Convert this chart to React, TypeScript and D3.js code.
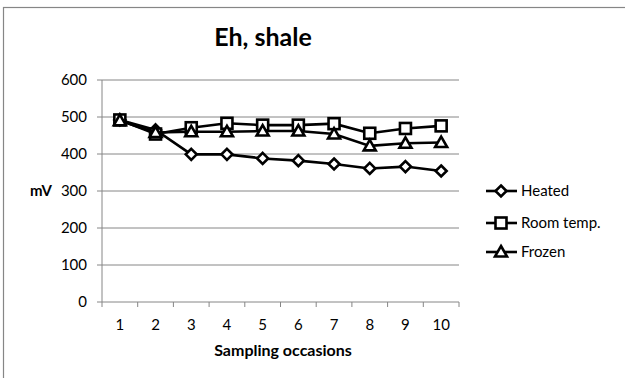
import React from "react";
import * as d3 from "d3";

const categories = ["1", "2", "3", "4", "5", "6", "7", "8", "9", "10"];
const heated = [492, 465, 399, 399, 388, 382, 373, 361, 366, 354];
const roomTemp = [492, 454, 471, 483, 478, 478, 482, 456, 469, 476];
const frozen = [490, 458, 460, 460, 462, 462, 454, 422, 429, 431];
const yTicks = [0, 100, 200, 300, 400, 500, 600];
const seriesNames = ["Heated", "Room temp.", "Frozen"];
const seriesMarkers = ["diamond", "square", "triangle"];

const W = 625;
const H = 378;
const FONT = "Lato, 'Open Sans', 'Liberation Sans', sans-serif";

function Marker({ kind, x, y }: { kind: string; x: number; y: number }) {
  const common = { fill: "#fff", stroke: "#000", strokeWidth: 2.6 };
  if (kind === "diamond") {
    const r = 5.5;
    return <path d={`M${x},${y - r}L${x + r},${y}L${x},${y + r}L${x - r},${y}Z`} {...common} />;
  }
  if (kind === "square") {
    const r = 5.5;
    return <rect x={x - r} y={y - r} width={2 * r} height={2 * r} {...common} />;
  }
  const r = 6;
  return <path d={`M${x},${y - r}L${x + r},${y + r * 0.75}L${x - r},${y + r * 0.75}Z`} {...common} />;
}

export default function App() {
  const left = 102;
  const right = 459;
  const top = 80;
  const bottom = 302;
  const x = d3.scaleBand().domain(categories).range([left, right]);
  const y = d3.scaleLinear().domain([0, 600]).range([bottom, top]);
  const cx = (c: string) => (x(c) as number) + x.bandwidth() / 2;
  const line = d3
    .line<number>()
    .x((_, i) => cx(categories[i]))
    .y((d) => y(d));
  const series = [heated, roomTemp, frozen];
  const legendY = [191, 223, 252];

  return (
    <svg width={W} height={H} style={{ position: "absolute", left: 0, top: 0, background: "#fff" }}>
      <rect x={0} y={0} width={W} height={H} fill="#fff" />
      <rect x={3.5} y={7.5} width={W + 20} height={H + 20} fill="none" stroke="#868686" strokeWidth={1.2} />
      <text x={263} y={46} textAnchor="middle" fontFamily={FONT} fontWeight="bold" fontSize={25}>
        Eh, shale
      </text>
      {yTicks.map((t) => (
        <g key={t}>
          {t > 0 && <line x1={left} x2={right} y1={y(t)} y2={y(t)} stroke="#868686" strokeWidth={1} />}
          <line x1={left - 5} x2={left} y1={y(t)} y2={y(t)} stroke="#868686" strokeWidth={1} />
          <text x={87} y={y(t)} dy="0.35em" textAnchor="end" fontFamily={FONT} fontSize={15}>
            {t}
          </text>
        </g>
      ))}
      <line x1={left} x2={left} y1={top} y2={bottom} stroke="#868686" strokeWidth={1} />
      <line x1={left} x2={right} y1={bottom} y2={bottom} stroke="#868686" strokeWidth={1} />
      {categories.map((c, i) => (
        <g key={c}>
          <line x1={x(c) as number} x2={x(c) as number} y1={bottom} y2={bottom + 5} stroke="#868686" />
          {i === categories.length - 1 && (
            <line x1={right} x2={right} y1={bottom} y2={bottom + 5} stroke="#868686" />
          )}
          <text x={cx(c)} y={325} dy="0.35em" textAnchor="middle" fontFamily={FONT} fontSize={15}>
            {c}
          </text>
        </g>
      ))}
      <text x={41} y={191} dy="0.35em" textAnchor="middle" fontFamily={FONT} fontWeight="bold" fontSize={15}>
        mV
      </text>
      <text x={283} y={350} dy="0.35em" textAnchor="middle" fontFamily={FONT} fontWeight="bold" fontSize={16}>
        Sampling occasions
      </text>
      {series.map((s, si) => (
        <g key={si}>
          <path d={line(s) || ""} fill="none" stroke="#000" strokeWidth={2.6} />
          {s.map((v, i) => (
            <Marker key={i} kind={seriesMarkers[si]} x={cx(categories[i])} y={y(v)} />
          ))}
        </g>
      ))}
      {seriesNames.map((n, i) => (
        <g key={n}>
          <line x1={486} x2={517} y1={legendY[i]} y2={legendY[i]} stroke="#000" strokeWidth={2.6} />
          <Marker kind={seriesMarkers[i]} x={501} y={legendY[i]} />
          <text x={521} y={legendY[i]} dy="0.35em" fontFamily={FONT} fontSize={15}>
            {n}
          </text>
        </g>
      ))}
    </svg>
  );
}
